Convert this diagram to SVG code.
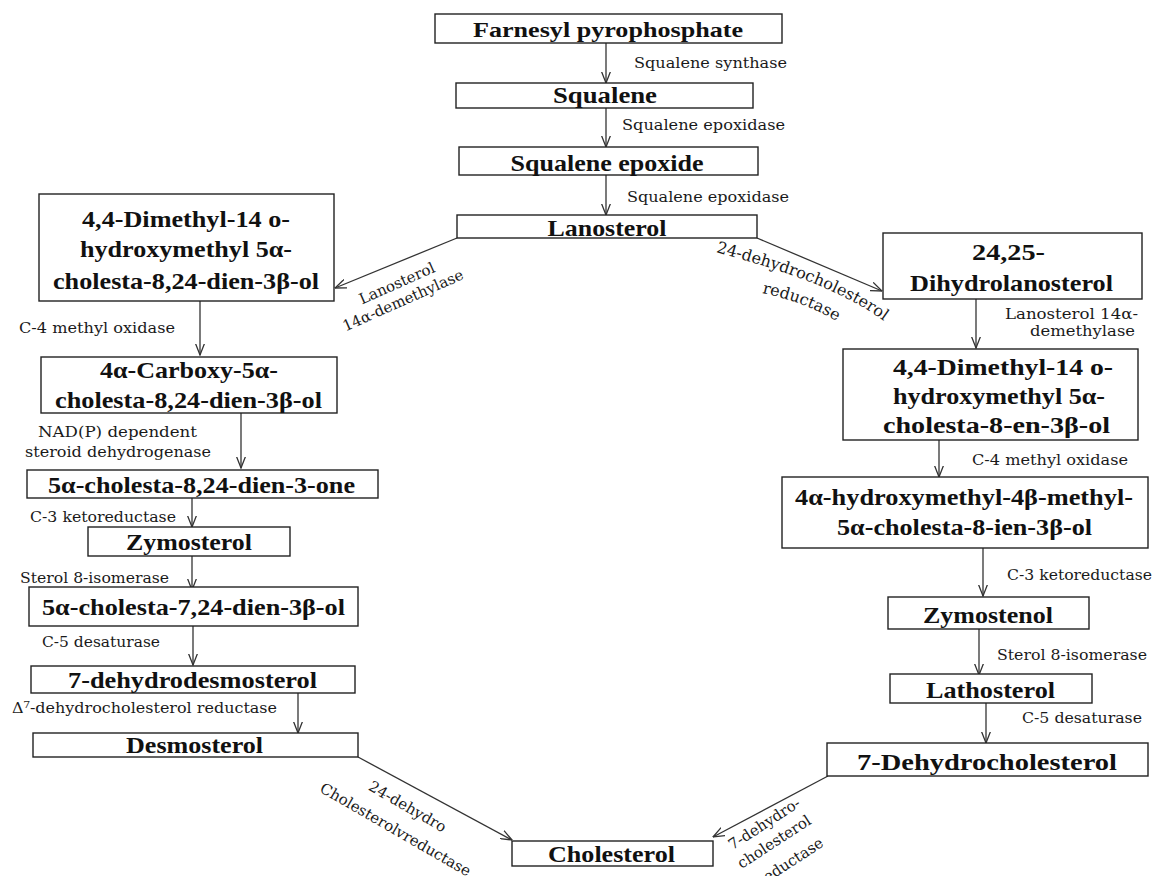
<svg xmlns="http://www.w3.org/2000/svg" width="1154" height="876" viewBox="0 0 1154 876">
<style>
.box{fill:#fff;stroke:#222;stroke-width:1.4}
.t{font-family:'Liberation Serif', 'Times New Roman', Tinos, serif;font-weight:700;font-size:24px;fill:#111;text-anchor:middle}
.l{font-family:'DejaVu Serif', serif;font-size:15px;fill:#1a1a1a}
.r{font-family:'DejaVu Serif', serif;font-size:15px;fill:#1a1a1a;text-anchor:middle}
.c{fill:none;stroke:#333;stroke-width:1.3}
</style>
<defs>
<marker id="ah" viewBox="0 0 12 10" refX="11.5" refY="5" markerWidth="12" markerHeight="10" markerUnits="userSpaceOnUse" orient="auto">
<path d="M0,0.5 L11.5,5 L0,9.5" fill="none" stroke="#333" stroke-width="1.3"/>
</marker>
<path id="p24" d="M716,252 C760,265 845,285 900,334"/>
<path id="pred" d="M762,293 C785,298 810,305 838,322"/>
</defs>
<rect width="1154" height="876" fill="#fff"/>

<g id="connectors">
<line class="c" x1="606" y1="43" x2="606" y2="83" marker-end="url(#ah)"/>
<line class="c" x1="606" y1="108" x2="606" y2="147" marker-end="url(#ah)"/>
<line class="c" x1="606" y1="175" x2="606" y2="215" marker-end="url(#ah)"/>
<line class="c" x1="457" y1="238" x2="335" y2="288" marker-end="url(#ah)"/>
<line class="c" x1="200" y1="301" x2="200" y2="355" marker-end="url(#ah)"/>
<line class="c" x1="241" y1="413" x2="241" y2="468" marker-end="url(#ah)"/>
<line class="c" x1="192" y1="498" x2="192" y2="527" marker-end="url(#ah)"/>
<line class="c" x1="192" y1="556" x2="192" y2="590" marker-end="url(#ah)"/>
<line class="c" x1="193" y1="626" x2="193" y2="665" marker-end="url(#ah)"/>
<line class="c" x1="298" y1="693" x2="298" y2="733" marker-end="url(#ah)"/>
<line class="c" x1="358" y1="757" x2="512" y2="840" marker-end="url(#ah)"/>
<line class="c" x1="757" y1="238" x2="882" y2="291" marker-end="url(#ah)"/>
<line class="c" x1="976" y1="299" x2="976" y2="348" marker-end="url(#ah)"/>
<line class="c" x1="939" y1="440" x2="939" y2="477" marker-end="url(#ah)"/>
<line class="c" x1="983" y1="548" x2="983" y2="596" marker-end="url(#ah)"/>
<line class="c" x1="979" y1="629" x2="979" y2="675" marker-end="url(#ah)"/>
<line class="c" x1="986" y1="703" x2="986" y2="743" marker-end="url(#ah)"/>
<line class="c" x1="828" y1="776" x2="713" y2="837" marker-end="url(#ah)"/>
</g>

<g id="labels">
<text class="l" x="634" y="68" textLength="153" lengthAdjust="spacingAndGlyphs">Squalene synthase</text>
<text class="l" x="622" y="130" textLength="163" lengthAdjust="spacingAndGlyphs">Squalene epoxidase</text>
<text class="l" x="627" y="202" textLength="162" lengthAdjust="spacingAndGlyphs">Squalene epoxidase</text>
<text class="l" x="19" y="333" textLength="156" lengthAdjust="spacingAndGlyphs">C-4 methyl oxidase</text>
<text class="l" x="38" y="437" textLength="159" lengthAdjust="spacingAndGlyphs">NAD(P) dependent</text>
<text class="l" x="25" y="457" textLength="186" lengthAdjust="spacingAndGlyphs">steroid dehydrogenase</text>
<text class="l" x="30" y="522" textLength="146" lengthAdjust="spacingAndGlyphs">C-3 ketoreductase</text>
<text class="l" x="20" y="583" textLength="149" lengthAdjust="spacingAndGlyphs">Sterol 8-isomerase</text>
<text class="l" x="42" y="647" textLength="118" lengthAdjust="spacingAndGlyphs">C-5 desaturase</text>
<text class="l" x="12" y="713" textLength="265" lengthAdjust="spacingAndGlyphs">Δ⁷-dehydrocholesterol reductase</text>
<text class="l" x="1005" y="319" textLength="133" lengthAdjust="spacingAndGlyphs">Lanosterol 14α-</text>
<text class="l" x="1030" y="336" textLength="105" lengthAdjust="spacingAndGlyphs">demethylase</text>
<text class="l" x="972" y="465" textLength="156" lengthAdjust="spacingAndGlyphs">C-4 methyl oxidase</text>
<text class="l" x="1007" y="580" textLength="145" lengthAdjust="spacingAndGlyphs">C-3 ketoreductase</text>
<text class="l" x="997" y="660" textLength="150" lengthAdjust="spacingAndGlyphs">Sterol 8-isomerase</text>
<text class="l" x="1022" y="723" textLength="120" lengthAdjust="spacingAndGlyphs">C-5 desaturase</text>
<text class="r" transform="translate(399,288) rotate(-24)">Lanosterol</text>
<text class="r" transform="translate(405,305) rotate(-24)">14α-demethylase</text>
<text class="l" style="font-size:16px"><textPath href="#p24">24-dehydrocholesterol</textPath></text>
<text class="l" style="font-size:16px"><textPath href="#pred">reductase</textPath></text>
<text class="r" transform="translate(405,811) rotate(30)">24-dehydro</text>
<text class="r" transform="translate(393,834) rotate(30)">Cholesterolvreductase</text>
<text class="r" transform="translate(767,828) rotate(-33)">7-dehydro-</text>
<text class="r" transform="translate(777,846) rotate(-33)">cholesterol</text>
<text class="r" transform="translate(793,866) rotate(-33)">reductase</text>
</g>

<g id="n-farnesyl"><rect class="box" x="435" y="14" width="347" height="29"/><text class="t" x="608" y="37" style="font-size:22px" textLength="270" lengthAdjust="spacingAndGlyphs">Farnesyl pyrophosphate</text></g>
<g id="n-squalene"><rect class="box" x="456" y="83" width="297" height="25"/><text class="t" x="605" y="103" textLength="104" lengthAdjust="spacingAndGlyphs">Squalene</text></g>
<g id="n-epoxide"><rect class="box" x="459" y="147" width="299" height="28"/><text class="t" x="607" y="171" textLength="193" lengthAdjust="spacingAndGlyphs">Squalene epoxide</text></g>
<g id="n-lanosterol"><rect class="box" x="457" y="215" width="300" height="23"/><text class="t" x="607" y="236" textLength="119" lengthAdjust="spacingAndGlyphs">Lanosterol</text></g>

<g id="n-l1"><rect class="box" x="39" y="194" width="295" height="107"/>
<text class="t" x="186" y="227" textLength="208" lengthAdjust="spacingAndGlyphs">4,4-Dimethyl-14 o-</text>
<text class="t" x="186" y="257" textLength="212" lengthAdjust="spacingAndGlyphs">hydroxymethyl 5α-</text>
<text class="t" x="186" y="289" textLength="266" lengthAdjust="spacingAndGlyphs">cholesta-8,24-dien-3β-ol</text></g>
<g id="n-l2"><rect class="box" x="41" y="357" width="296" height="56"/>
<text class="t" x="189" y="378" textLength="178" lengthAdjust="spacingAndGlyphs">4α-Carboxy-5α-</text>
<text class="t" x="188.5" y="408" textLength="267" lengthAdjust="spacingAndGlyphs">cholesta-8,24-dien-3β-ol</text></g>
<g id="n-l3"><rect class="box" x="27" y="470" width="351" height="28"/>
<text class="t" x="201.5" y="493" textLength="307" lengthAdjust="spacingAndGlyphs">5α-cholesta-8,24-dien-3-one</text></g>
<g id="n-zymosterol"><rect class="box" x="88" y="527" width="202" height="29"/>
<text class="t" x="189" y="550" textLength="126" lengthAdjust="spacingAndGlyphs">Zymosterol</text></g>
<g id="n-l5"><rect class="box" x="29" y="587" width="329" height="39"/>
<text class="t" x="193.5" y="615" textLength="303" lengthAdjust="spacingAndGlyphs">5α-cholesta-7,24-dien-3β-ol</text></g>
<g id="n-7dd"><rect class="box" x="31" y="666" width="324" height="27"/>
<text class="t" x="192.5" y="688" textLength="249" lengthAdjust="spacingAndGlyphs">7-dehydrodesmosterol</text></g>
<g id="n-desmosterol"><rect class="box" x="33" y="733" width="325" height="24"/>
<text class="t" x="194.5" y="753" textLength="137" lengthAdjust="spacingAndGlyphs">Desmosterol</text></g>

<g id="n-dihydro"><rect class="box" x="883" y="233" width="259" height="66"/>
<text class="t" x="1008.5" y="260" textLength="73" lengthAdjust="spacingAndGlyphs">24,25-</text>
<text class="t" x="1011.5" y="291" textLength="203" lengthAdjust="spacingAndGlyphs">Dihydrolanosterol</text></g>
<g id="n-r2"><rect class="box" x="843" y="349" width="295" height="91"/>
<text class="t" x="1003" y="375" textLength="220" lengthAdjust="spacingAndGlyphs">4,4-Dimethyl-14 o-</text>
<text class="t" x="999" y="404" textLength="212" lengthAdjust="spacingAndGlyphs">hydroxymethyl 5α-</text>
<text class="t" x="996.5" y="433" textLength="227" lengthAdjust="spacingAndGlyphs">cholesta-8-en-3β-ol</text></g>
<g id="n-r3"><rect class="box" x="782" y="477" width="366" height="71"/>
<text class="t" x="964" y="505" textLength="338" lengthAdjust="spacingAndGlyphs">4α-hydroxymethyl-4β-methyl-</text>
<text class="t" x="964.5" y="535" textLength="255" lengthAdjust="spacingAndGlyphs">5α-cholesta-8-ien-3β-ol</text></g>
<g id="n-zymostenol"><rect class="box" x="888" y="597" width="201" height="32"/>
<text class="t" x="988" y="623" textLength="130" lengthAdjust="spacingAndGlyphs">Zymostenol</text></g>
<g id="n-lathosterol"><rect class="box" x="890" y="674" width="202" height="29"/>
<text class="t" x="990.5" y="698" textLength="129" lengthAdjust="spacingAndGlyphs">Lathosterol</text></g>
<g id="n-7dhc"><rect class="box" x="827" y="743" width="321" height="33"/>
<text class="t" x="987" y="770" textLength="260" lengthAdjust="spacingAndGlyphs">7-Dehydrocholesterol</text></g>
<g id="n-cholesterol"><rect class="box" x="512" y="841" width="201" height="25"/>
<text class="t" x="611.5" y="862" textLength="127" lengthAdjust="spacingAndGlyphs">Cholesterol</text></g>
</svg>
